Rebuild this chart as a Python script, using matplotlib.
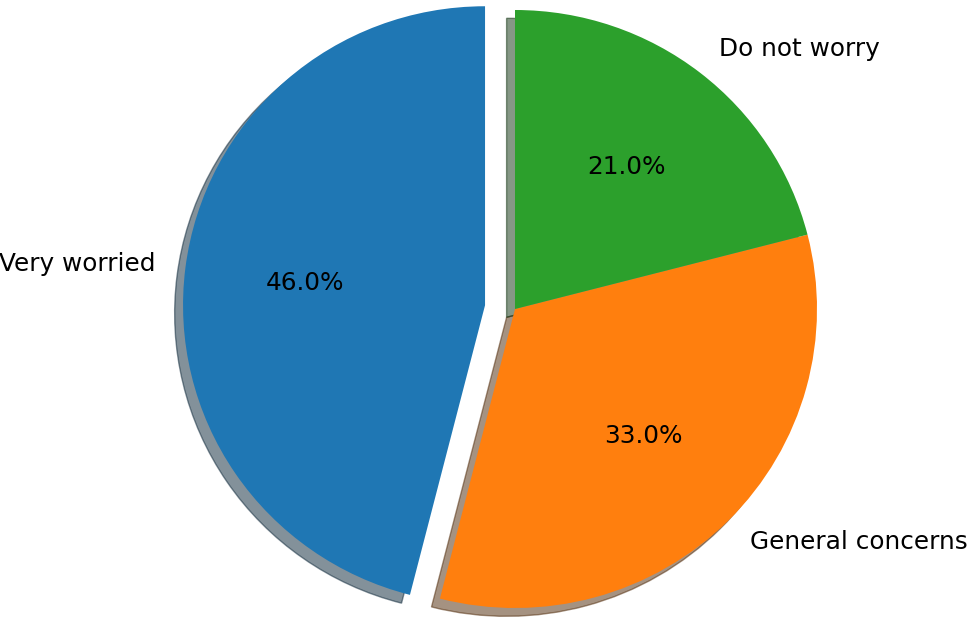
import matplotlib
matplotlib.use("Agg")
import matplotlib.pyplot as plt

labels = ['Very worried', 'General concerns', 'Do not worry']
sizes = [46, 33, 21]
explode = [0.1, 0, 0]

fig = plt.figure(figsize=(9.69, 6.19), dpi=100)
ax = fig.add_axes([0, 0, 1, 1])
ax.pie(sizes, labels=labels, explode=explode, autopct='%1.1f%%',
       shadow=True, startangle=90, textprops={'fontsize': 17.8})
cx, cy, sx, sy = 515, 310, 302, 299
ax.set_xlim(-cx / sx, (969 - cx) / sx)
ax.set_ylim(-cy / sy, (619 - cy) / sy)
ax.set_aspect('auto')
ax.axis('off')
fig.savefig('out.png', dpi=100)
